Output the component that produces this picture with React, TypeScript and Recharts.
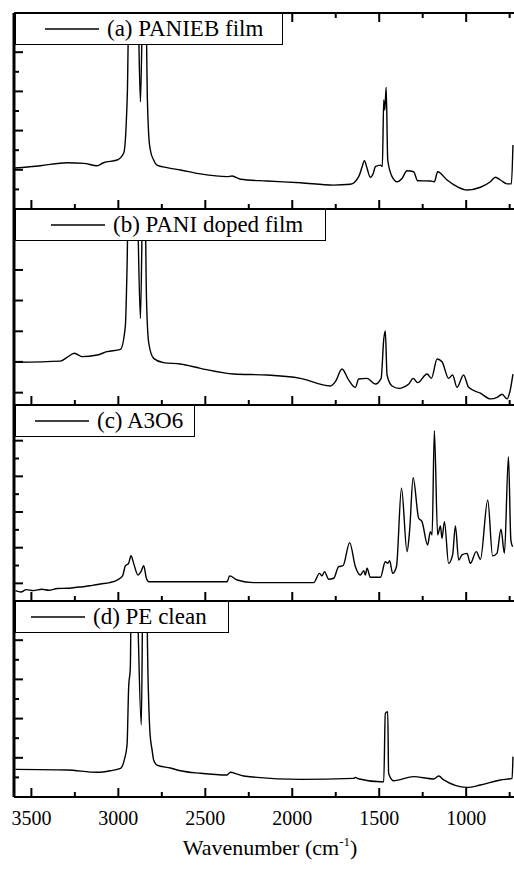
import { LineChart, Line, XAxis, YAxis, Legend, Label } from "recharts";

// FTIR spectra, wavenumber in cm-1, intensity in % of each panel's height (arb. units)
const wnA = [3598, 3448, 3295, 3199, 3122, 3086, 3007, 2969, 2955, 2948, 2938, 2890, 2873, 2858, 2843, 2833, 2826, 2816, 2797, 2778, 2720, 2643, 2528, 2375, 2346, 2298, 2145, 1953, 1762, 1666, 1618, 1600, 1585, 1570, 1551, 1535, 1522, 1493, 1482, 1474, 1468, 1460, 1451, 1426, 1397, 1369, 1340, 1302, 1279, 1206, 1183, 1164, 1110, 1052, 995, 918, 861, 832, 803, 765, 740, 731];
const panieb = [20.9, 22.1, 23.6, 23.3, 22.1, 23.6, 25, 28.6, 42.9, 60, 112, 112, 54.7, 112, 112, 55.6, 38.8, 30.1, 25, 22.4, 21.1, 19.9, 17.9, 16.5, 16.8, 15.2, 14.3, 13.4, 12.2, 12.6, 16.5, 21, 24.6, 20.8, 16.2, 18, 21.6, 22.4, 21.6, 55.6, 50.5, 62.1, 25, 16.5, 13.9, 15.6, 19.5, 19, 14.4, 14.3, 13.9, 19, 14.8, 11.4, 9.7, 11.1, 13.9, 16.2, 14.8, 12.8, 12.8, 32.7];

const wnB = [3592, 3333, 3295, 3253, 3209, 3122, 3065, 2988, 2960, 2950, 2941, 2895, 2873, 2858, 2848, 2838, 2825, 2797, 2740, 2643, 2528, 2337, 2145, 1953, 1781, 1752, 1714, 1676, 1637, 1618, 1570, 1522, 1489, 1474, 1465, 1455, 1426, 1388, 1330, 1305, 1279, 1225, 1200, 1167, 1139, 1101, 1078, 1053, 1015, 986, 918, 861, 822, 793, 765, 750, 731];
const paniDoped = [21.8, 22.4, 24.3, 26.4, 24.7, 25.5, 27.2, 28.4, 40, 70, 112, 112, 44.2, 112, 112, 53.6, 31.5, 23.8, 21.6, 20.9, 18.7, 15.8, 15.3, 13.6, 9.7, 11.9, 18.4, 12.8, 9, 13.3, 13.6, 10.7, 13.6, 33.5, 37.8, 15.3, 9.7, 8.5, 10.7, 13.6, 11.4, 15.8, 13.6, 23.5, 22.1, 13.6, 15.3, 9, 15.3, 9, 6, 3.1, 3.9, 5.5, 3.1, 6.3, 15.8];

const wnC = [3592, 3560, 3530, 3488, 3440, 3400, 3350, 3295, 3240, 3200, 3150, 3103, 3050, 3007, 2975, 2960, 2941, 2927, 2912, 2887, 2870, 2854, 2840, 2825, 2720, 2550, 2375, 2360, 2317, 2222, 2011, 1877, 1843, 1829, 1815, 1790, 1762, 1733, 1708, 1670, 1637, 1608, 1589, 1580, 1570, 1551, 1493, 1465, 1451, 1440, 1423, 1401, 1372, 1340, 1325, 1305, 1273, 1254, 1222, 1206, 1196, 1183, 1164, 1148, 1139, 1125, 1101, 1078, 1062, 1043, 1024, 995, 976, 942, 918, 876, 848, 823, 800, 780, 757, 743, 733];
const a3o6 = [5.3, 4.6, 5.8, 5.3, 6, 5.5, 6.4, 6.5, 7, 7.3, 8, 8.7, 9.4, 10.7, 13, 17.9, 19.2, 23.1, 19.2, 13.3, 15, 18, 12, 9.8, 9.8, 9.8, 9.8, 12.8, 10.7, 9.4, 9.4, 9.4, 14.1, 12.8, 15, 11.1, 11.6, 17.5, 18, 29.8, 17.5, 13.3, 15.5, 13.3, 16.7, 12.1, 12.1, 20, 19.2, 20.6, 14.1, 17.5, 57.5, 25.2, 36.2, 62.9, 42.2, 40.5, 28.6, 35.4, 33.7, 86.9, 33.7, 38.3, 32, 40.5, 19.2, 23.5, 38.3, 20.9, 23.5, 24.3, 19.2, 25.2, 21.3, 51.5, 23, 24.3, 36.6, 24.3, 73.6, 31.1, 27.7];

const wnD = [3592, 3295, 3122, 3046, 2988, 2965, 2950, 2941, 2931, 2925, 2898, 2868, 2858, 2840, 2829, 2818, 2806, 2797, 2778, 2701, 2643, 2528, 2375, 2356, 2317, 2279, 1953, 1647, 1637, 1620, 1493, 1474, 1465, 1451, 1446, 1418, 1302, 1187, 1158, 1129, 995, 918, 803, 736, 731];
const peClean = [14.1, 13.8, 12.6, 13.4, 14.6, 19.2, 26.5, 55.4, 66.5, 112, 112, 36.7, 112, 112, 60, 32.5, 24, 18.9, 16.3, 14.8, 13.4, 12.1, 11.2, 12.6, 11.7, 10.7, 9, 9.5, 10, 9.3, 7.8, 7.8, 42.7, 43.5, 12.1, 8.3, 10.4, 9.2, 10.7, 8.7, 4.9, 6.1, 8.7, 9.5, 20.6];

const xTicks = [3500, 3250, 3000, 2750, 2500, 2250, 2000, 1750, 1500, 1250, 1000, 750];
const xMajor = [3500, 3000, 2500, 2000, 1500, 1000];

const yTicksA = [10, 20, 30, 40, 50, 60, 70, 80, 90];
const yMajorA = [20, 40, 60, 80];
const yTicksB = [6.3, 22, 37.6, 53.3, 68.9, 84.6];
const yTicksC = [9, 18.1, 27.2, 36.3, 45.4, 54.5, 63.6, 72.7, 81.8, 90.9];
const yMajorC = [9, 27.2, 45.4, 63.6, 81.8];

const FONT = "Liberation Serif, DejaVu Serif, Times New Roman, serif";
const PAD = 4;

const toRows = (wn: number[], v: number[]) => wn.map((w, i) => ({ wn: w, v: v[i] }));

const xTick = (dir: number, withLabel: boolean) => (props: any) => {
  const x = Number(props.x);
  const y = Number(props.y);
  const major = xMajor.includes(props.payload.value);
  return (
    <g>
      <line x1={x} y1={y} x2={x} y2={y + dir * (major ? 9 : 5)} stroke="#000" strokeWidth={2} />
      {withLabel && major && (
        <text x={x} y={y + 28} textAnchor="middle" style={{ fontFamily: FONT, fontSize: 20 }} fill="#000">
          {props.payload.value}
        </text>
      )}
    </g>
  );
};

const yTickLeft = (majors: number[]) => (props: any) => {
  const x = Number(props.x);
  const y = Number(props.y);
  const len = majors.includes(props.payload.value) ? 9 : 5;
  return <line x1={x} y1={y} x2={x + len} y2={y} stroke="#000" strokeWidth={2} />;
};

const yTickRight = (majors: number[]) => (props: any) => {
  const x = Number(props.x);
  const y = Number(props.y);
  if (!majors.includes(props.payload.value)) return <g />;
  return <line x1={x} y1={y} x2={x - 2.5} y2={y} stroke="#000" strokeWidth={2} />;
};

const legendBox = (name: string, width: number, padLeft: number) => (props: any) => {
  const label = props.payload?.[0]?.value ?? name;
  return (
    <div
      style={{
        width,
        height: 32,
        boxSizing: "border-box",
        border: "1px solid #000",
        background: "#fff",
        display: "flex",
        alignItems: "center",
        paddingLeft: padLeft,
        fontFamily: FONT,
        fontSize: 23,
        color: "#000",
        whiteSpace: "nowrap",
      }}
    >
      <svg width={54} height={4} style={{ flex: "none" }}>
        <line x1={0} y1={2} x2={54} y2={2} stroke="#000" strokeWidth={1.4} />
      </svg>
      <span style={{ marginLeft: 8, lineHeight: "30px" }}>{label}</span>
    </div>
  );
};

const axisTitle = (props: any) => {
  const vb = props.viewBox;
  return (
    <text x={vb.x + vb.width / 2 + 6} y={vb.y + 58} textAnchor="middle" style={{ fontFamily: FONT, fontSize: 22 }} fill="#000">
      Wavenumber (cm
      <tspan dy={-9} style={{ fontSize: 13 }}>-1</tspan>
      <tspan dy={9}>)</tspan>
    </text>
  );
};

interface PanelProps {
  top: number;
  rows: { wn: number; v: number }[];
  name: string;
  boxWidth: number;
  boxPad: number;
  yTicks: number[];
  yMajor: number[];
  topTicks?: boolean;
  last?: boolean;
}

function Panel({ top, rows, name, boxWidth, boxPad, yTicks, yMajor, topTicks = false, last = false }: PanelProps) {
  // axes need a non-zero size or recharts skips drawing them
  const axisH = last ? 69 : 1;
  return (
    <div style={{ position: "absolute", left: 0, top: top - PAD }}>
      <LineChart
        width={515}
        height={196 + 2 * PAD + axisH}
        data={rows}
        margin={{ top: PAD - 1, right: 0, bottom: PAD, left: 13 }}
      >
        <XAxis
          dataKey="wn"
          type="number"
          domain={[725, 3600]}
          reversed
          allowDataOverflow
          ticks={xTicks}
          interval={0}
          height={axisH}
          tickSize={0}
          tickMargin={0}
          tickLine={false}
          axisLine={{ stroke: "#000", strokeWidth: 2 }}
          tick={xTick(-1, last)}
        >
          {last && <Label content={axisTitle} />}
        </XAxis>
        <XAxis
          xAxisId="top"
          orientation="top"
          dataKey="wn"
          type="number"
          domain={[725, 3600]}
          reversed
          allowDataOverflow
          ticks={xTicks}
          interval={0}
          height={1}
          tickSize={0}
          tickMargin={0}
          tickLine={false}
          axisLine={{ stroke: "#000", strokeWidth: 2 }}
          tick={topTicks ? xTick(1, false) : false}
        />
        <YAxis
          type="number"
          domain={[0, 100]}
          allowDataOverflow
          ticks={yTicks}
          interval={0}
          width={1}
          tickSize={0}
          tickMargin={0}
          tickLine={false}
          axisLine={{ stroke: "#000", strokeWidth: 3 }}
          tick={yTickLeft(yMajor)}
        />
        <YAxis
          yAxisId="right"
          orientation="right"
          type="number"
          domain={[0, 100]}
          ticks={yTicks}
          interval={0}
          width={1}
          tickSize={0}
          tickMargin={0}
          tickLine={false}
          axisLine={false}
          tick={yTickRight(yMajor)}
        />
        <Legend
          layout="vertical"
          align="center"
          verticalAlign="middle"
          wrapperStyle={{ left: 15, top: PAD, width: boxWidth, height: 32 }}
          content={legendBox(name, boxWidth, boxPad)}
        />
        <Line
          type="monotone"
          dataKey="v"
          name={name}
          stroke="#000"
          strokeWidth={1.4}
          dot={false}
          isAnimationActive={false}
        />
      </LineChart>
    </div>
  );
}

export default function App() {
  return (
    <div style={{ position: "absolute", left: 0, top: 0, width: 514, height: 870, overflow: "hidden", background: "#fff" }}>
      <Panel top={13} rows={toRows(wnA, panieb)} name="(a) PANIEB film" boxWidth={268} boxPad={29} yTicks={yTicksA} yMajor={yMajorA} topTicks />
      <Panel top={209} rows={toRows(wnB, paniDoped)} name="(b) PANI doped film" boxWidth={311} boxPad={35} yTicks={yTicksB} yMajor={yTicksB} />
      <Panel top={405} rows={toRows(wnC, a3o6)} name="(c) A3O6" boxWidth={180} boxPad={19} yTicks={yTicksC} yMajor={yMajorC} />
      <Panel top={601} rows={toRows(wnD, peClean)} name="(d) PE clean" boxWidth={214} boxPad={15} yTicks={yTicksA} yMajor={yMajorA} last />
    </div>
  );
}
